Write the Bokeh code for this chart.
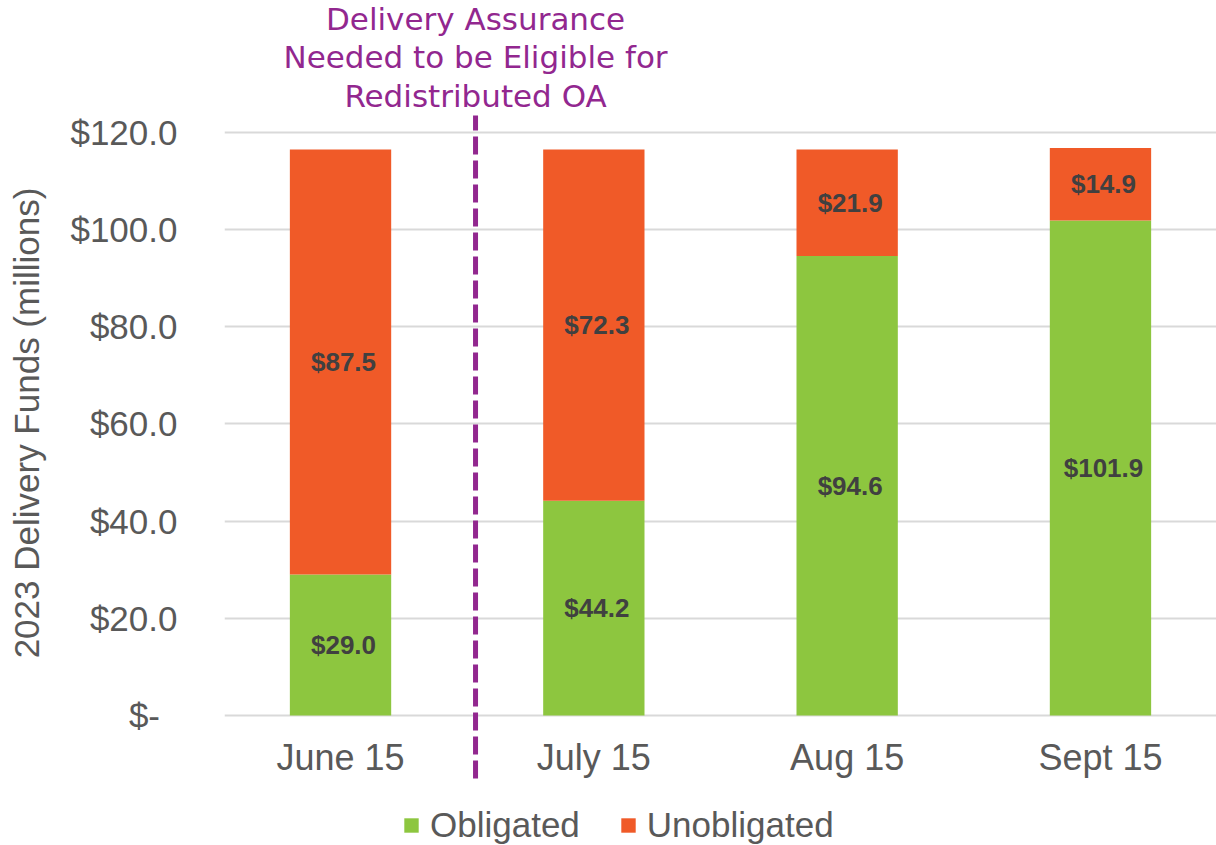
from bokeh.plotting import figure
from bokeh.models import (ColumnDataSource, FactorRange, Range1d, Legend, LegendItem,
                          Label, FixedTicker)
from bokeh.embed import file_html
from bokeh.resources import INLINE
from bokeh.core.properties import value

# ---- data ----
dates = ["June 15", "July 15", "Aug 15", "Sept 15"]
obligated = [29.0, 44.2, 94.6, 101.9]
unobligated = [87.5, 72.3, 21.9, 14.9]
series_names = ["Obligated", "Unobligated"]
y_ticks = [0, 20, 40, 60, 80, 100, 120]
y_tick_labels = ["$-\u2002", "$20.0", "$40.0", "$60.0", "$80.0", "$100.0", "$120.0"]
y_title = "2023 Delivery Funds (millions)"
annotation_lines = ["Delivery Assurance", "Needed to be Eligible for", "Redistributed OA"]

# ---- styles ----
GREEN = "#8DC63F"
ORANGE = "#F05A28"
PURPLE = "#92278F"
GREY = "#595959"
LABEL_DARK = "#404040"
FONT = "Liberation Sans"

Y0, Y1 = -26.76, 147.17

xr = FactorRange(factors=dates, range_padding=-0.042, range_padding_units="absolute")

p = figure(x_range=xr, y_range=Range1d(Y0, Y1), width=1216, height=845,
           output_backend="svg", toolbar_location=None,
           min_border_left=224, min_border_right=0, min_border_top=0, min_border_bottom=0)
p.outline_line_color = None
p.background_fill_color = "white"
p.border_fill_color = "white"

src = ColumnDataSource(dict(
    date=dates,
    Obligated=obligated,
    Unobligated=unobligated,
    obl_mid=[o / 2 for o in obligated],
    unobl_mid=[o + u / 2 for o, u in zip(obligated, unobligated)],
    obl_txt=["$%.1f" % v for v in obligated],
    unobl_txt=["$%.1f" % v for v in unobligated],
    xlab_y=[-8.65] * len(dates),
))

rs = p.vbar_stack(series_names, x="date", width=0.4, source=src,
                  color=[GREEN, ORANGE], line_color=None)

# data labels
for ycol, tcol in (("obl_mid", "obl_txt"), ("unobl_mid", "unobl_txt")):
    p.text(x="date", y=ycol, text=tcol, source=src, x_offset=3,
           text_font=value(FONT), text_font_size="26px", text_font_style="bold",
           text_color=LABEL_DARK, text_align="center", text_baseline="middle")

# category labels (x axis)
p.text(x="date", y="xlab_y", text="date", source=src,
       text_font=value(FONT), text_font_size="36px", text_color=GREY,
       text_align="center", text_baseline="middle")
p.xaxis.visible = False
p.xgrid.visible = False

# y axis
p.yaxis.ticker = FixedTicker(ticks=y_ticks)
p.yaxis.major_label_overrides = {t: l for t, l in zip(y_ticks, y_tick_labels)}
p.yaxis.axis_line_color = None
p.yaxis.major_tick_line_color = None
p.yaxis.major_tick_out = 0
p.yaxis.major_tick_in = 0
p.yaxis.minor_tick_line_color = None
p.yaxis.minor_tick_out = 0
p.yaxis.major_label_text_font = FONT
p.yaxis.major_label_text_font_size = "35px"
p.yaxis.major_label_text_color = GREY
p.yaxis.major_label_standoff = 47
p.yaxis.axis_label = y_title
p.yaxis.axis_label_text_font = FONT
p.yaxis.axis_label_text_font_size = "35px"
p.yaxis.axis_label_text_font_style = "normal"
p.yaxis.axis_label_text_color = GREY
p.yaxis.axis_label_standoff = 21
p.ygrid.ticker = FixedTicker(ticks=y_ticks)
p.ygrid.grid_line_color = "#D9D9D9"
p.ygrid.grid_line_width = 2

# divider between June and July
divider_x = dates.index("July 15") + 0.033
p.segment(x0=[divider_x], y0=[-12.97], x1=[divider_x], y1=[123.5],
          line_color=PURPLE, line_width=5, line_dash="18 6")

# annotation above the divider (one label per line, screen y from frame bottom)
for i, line in enumerate(annotation_lines):
    p.add_layout(Label(x=divider_x, y=827 - i * 38.5, y_units="screen", text=line,
                       text_align="center", text_baseline="middle",
                       text_font="DejaVu Sans", text_font_size="31px", text_color=PURPLE))

legend = Legend(items=[LegendItem(label=n, renderers=[r]) for n, r in zip(series_names, rs)],
                location=(178, 0), orientation="horizontal",
                glyph_width=18, glyph_height=18, label_standoff=10, spacing=39,
                padding=0, margin=0, border_line_color=None, background_fill_alpha=0,
                label_text_font=FONT, label_text_font_size="35px", label_text_color=GREY)
p.add_layout(legend, "center")

open("out.html", "w").write(file_html(p, INLINE))
